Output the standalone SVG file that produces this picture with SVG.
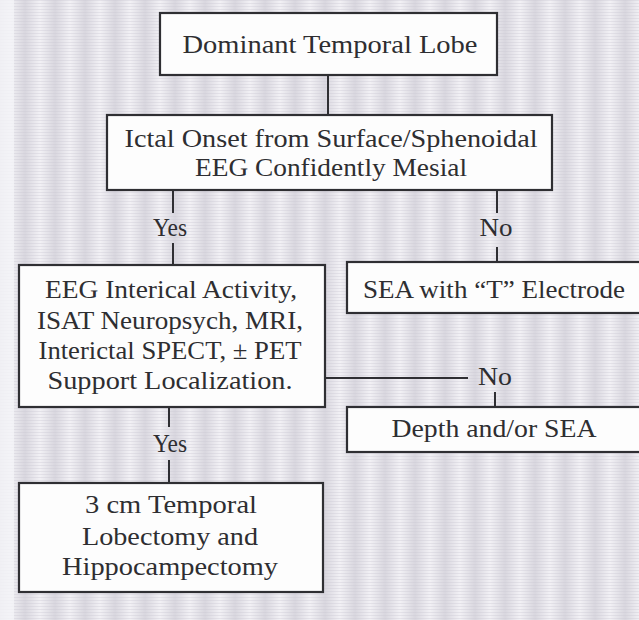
<svg xmlns="http://www.w3.org/2000/svg" width="639" height="620" viewBox="0 0 639 620">
  <defs>
    <!-- soft vertical banding of the backdrop -->
    <linearGradient id="band" x1="0" y1="0" x2="1" y2="0">
      <stop offset="0" stop-color="#d9d7df"/>
      <stop offset="0.5" stop-color="#f2f1f5"/>
      <stop offset="1" stop-color="#d9d7df"/>
    </linearGradient>
    <pattern id="stripes" x="-5" y="0" width="30" height="620" patternUnits="userSpaceOnUse">
      <rect width="30" height="620" fill="url(#band)"/>
    </pattern>
    <pattern id="scan" x="0" y="0" width="4" height="3" patternUnits="userSpaceOnUse">
      <rect width="4" height="1" fill="#c8c4d0" opacity="0.35"/>
    </pattern>
  </defs>
  <style>
    .box { fill: #fdfdfd; stroke: #2f2f33; stroke-width: 2.2; }
    .wire { stroke: #2f2f33; stroke-width: 2; fill: none; }
    .lbl { font-size: 25px; fill: #2e2e31; text-anchor: middle; }
  </style>

  <!-- backdrop -->
  <rect width="639" height="620" fill="url(#stripes)"/>
  <rect width="639" height="620" fill="url(#scan)"/>
  <rect width="14" height="620" fill="#f4f4f7" opacity="0.8"/>

  <g font-family="'Liberation Serif', 'DejaVu Serif', serif">
    <!-- connectors -->
    <g id="connectors">
      <line class="wire" x1="328" y1="75" x2="328" y2="115"/>
      <line class="wire" x1="173" y1="190" x2="173" y2="213"/>
      <line class="wire" x1="173" y1="243" x2="173" y2="265"/>
      <line class="wire" x1="497" y1="190" x2="497" y2="213"/>
      <line class="wire" x1="497" y1="247" x2="497" y2="262"/>
      <line class="wire" x1="325" y1="378" x2="468" y2="378"/>
      <line class="wire" x1="495" y1="392" x2="495" y2="407"/>
      <line class="wire" x1="169" y1="407" x2="169" y2="427"/>
      <line class="wire" x1="169" y1="460" x2="169" y2="483"/>
      <text class="lbl" x="170" y="236" textLength="34" lengthAdjust="spacingAndGlyphs">Yes</text>
      <text class="lbl" x="496" y="236" textLength="33" lengthAdjust="spacingAndGlyphs">No</text>
      <text class="lbl" x="495" y="385" textLength="34" lengthAdjust="spacingAndGlyphs">No</text>
      <text class="lbl" x="170" y="452" textLength="34" lengthAdjust="spacingAndGlyphs">Yes</text>
    </g>

    <g id="dominant-temporal-lobe">
      <rect class="box" x="160" y="13" width="337" height="62"/>
      <text class="lbl" x="330" y="53" textLength="295" lengthAdjust="spacingAndGlyphs">Dominant Temporal Lobe</text>
    </g>

    <g id="ictal-onset">
      <rect class="box" x="107" y="115" width="445" height="75"/>
      <text class="lbl" x="331" y="147" textLength="413" lengthAdjust="spacingAndGlyphs">Ictal Onset from Surface/Sphenoidal</text>
      <text class="lbl" x="331" y="176" textLength="272" lengthAdjust="spacingAndGlyphs">EEG Confidently Mesial</text>
    </g>

    <g id="support-localization">
      <rect class="box" x="19" y="265" width="306" height="142"/>
      <text class="lbl" x="171" y="298" textLength="252" lengthAdjust="spacingAndGlyphs">EEG Interical Activity,</text>
      <text class="lbl" x="170" y="329" textLength="266" lengthAdjust="spacingAndGlyphs">ISAT Neuropsych, MRI,</text>
      <text class="lbl" x="170" y="359" textLength="263" lengthAdjust="spacingAndGlyphs">Interictal SPECT, ± PET</text>
      <text class="lbl" x="170" y="389" textLength="245" lengthAdjust="spacingAndGlyphs">Support Localization.</text>
    </g>

    <g id="sea-t-electrode">
      <rect class="box" x="347" y="262" width="300" height="51"/>
      <text class="lbl" x="494" y="298" textLength="262" lengthAdjust="spacingAndGlyphs">SEA with “T” Electrode</text>
    </g>

    <g id="depth-sea">
      <rect class="box" x="347" y="407" width="300" height="45"/>
      <text class="lbl" x="494" y="437" textLength="205" lengthAdjust="spacingAndGlyphs">Depth and/or SEA</text>
    </g>

    <g id="lobectomy">
      <rect class="box" x="19" y="483" width="304" height="109"/>
      <text class="lbl" x="171" y="513" textLength="172" lengthAdjust="spacingAndGlyphs">3 cm Temporal</text>
      <text class="lbl" x="170" y="545" textLength="176" lengthAdjust="spacingAndGlyphs">Lobectomy and</text>
      <text class="lbl" x="170" y="575" textLength="216" lengthAdjust="spacingAndGlyphs">Hippocampectomy</text>
    </g>
  </g>
</svg>
